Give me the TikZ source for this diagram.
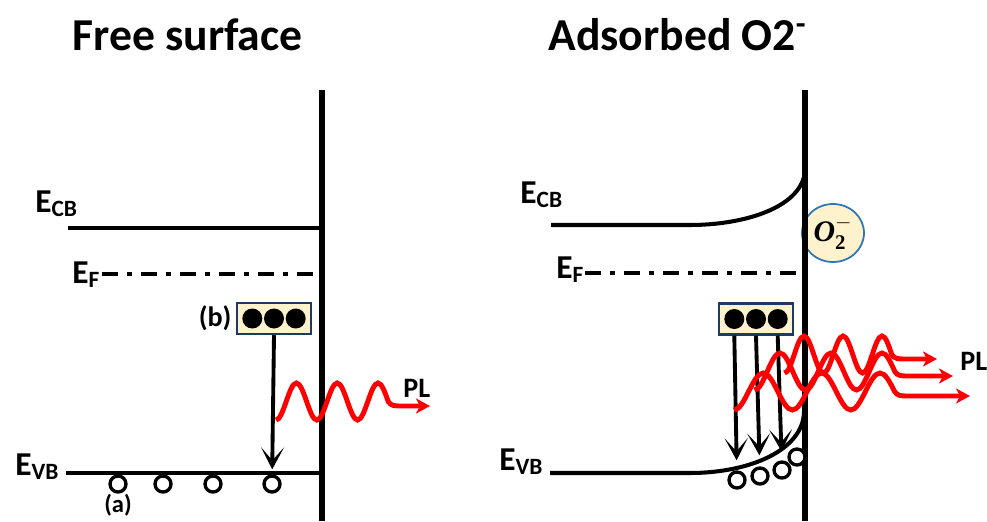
\documentclass[tikz,border=0pt]{standalone}
\usepackage{fontspec}
\setmainfont{Carlito}
\newfontfamily\oxfont{Liberation Serif}
\usepackage{amsmath}
\usepackage{tikz}
\usetikzlibrary{arrows.meta, positioning, shapes.geometric}
\definecolor{plred}{HTML}{FF0000}
\definecolor{trapfill}{HTML}{FFF2CC}
\definecolor{trapedge}{HTML}{1F3864}
\definecolor{oxedge}{HTML}{2E75B6}

\begin{document}
\begin{tikzpicture}[x=0.02cm, y=-0.02cm,
          title/.style={font=\fontsize{26}{30}\selectfont\bfseries, inner sep=0pt},
          lvl/.style={font=\fontsize{19}{22}\selectfont\bfseries, inner sep=0pt},
          tag/.style={font=\fontsize{16}{18}\selectfont\bfseries, inner sep=0pt},
          wall/.style={line width=3.4pt},
          band/.style={line width=2.3pt},
          fermi/.style={line width=2.3pt, dash pattern=on 0.32cm off 0.18cm on 0.1cm off 0.18cm},
          trap/.style={rectangle, draw=trapedge, fill=trapfill, line width=1.4pt,
                       minimum width=1.48cm, minimum height=0.62cm},
          electron/.style={circle, fill=black, minimum size=0.4cm, inner sep=0pt},
          hole/.style={circle, draw, fill=white, line width=1.9pt, minimum size=0.32cm, inner sep=0pt},
          oxy/.style={ellipse, draw=oxedge, fill=trapfill, line width=1pt,
                      minimum width=1.24cm, minimum height=1.16cm, inner sep=0pt,
                      font=\fontsize{17}{20}\selectfont},
          trans/.style={-{Stealth[length=0.44cm, width=0.46cm, inset=0.26cm]}, line width=2.2pt},
          pl/.style={plred, line width=2.8pt, -{Stealth[length=0.28cm, width=0.3cm, inset=0.08cm]}}
        ]
        \useasboundingbox (0,0) rectangle (987,521);

        \node[title, anchor=base west] (tfree) at (72,50) {Free surface};
        \node[title, anchor=base west] (tads) at (548,50) {Adsorbed O2\textsuperscript{-}};

        % Free surface
        \coordinate (lwtop) at (322,90);
        \coordinate (lwbot) at (322,521);
        \coordinate (lcb) at (68,228);
        \coordinate (lef) at (102,274);
        \coordinate (lvb) at (66,473);
        \draw[band] (lcb) -- (lcb -| lwtop);
        \draw[fermi] (lef) -- (lef -| lwtop);
        \draw[band] (lvb) -- (lvb -| lwtop);
        \draw[wall] (lwtop) -- (lwbot);

        \node[lvl, anchor=base west] (lecbl) at (35,212) {E\textsubscript{CB}};
        \node[lvl, anchor=base west] (lefl) at (72,283) {E\textsubscript{F}};
        \node[lvl, anchor=base west] (levbl) at (15,475) {E\textsubscript{VB}};

        \node[trap] (lbox) at (274,318.5) {};
        \node[electron] (ld2) at (274,318.5) {};
        \node[electron, left=0.02cm of ld2] (ld1) {};
        \node[electron, right=0.02cm of ld2] (ld3) {};
        \node[tag, left=0.08cm of lbox] (tagb) {(b)};

        \node[hole] (lh1) at (118,484) {};
        \node[hole] (lh2) at (163,484) {};
        \node[hole] (lh3) at (213,484) {};
        \node[hole] (lh4) at (272,484) {};
        \node[tag, font=\fontsize{14}{16}\selectfont\bfseries, anchor=base] (taga) at (118,512) {(a)};

        \draw[trans, shorten >=0.1cm] (lbox.south) -- (lh4);

        % Adsorbed O2-
        \coordinate (rwtop) at (805,90);
        \coordinate (rwbot) at (805,521);
        \coordinate (rcb) at (551,225);
        \coordinate (ref) at (585,273);
        \coordinate (rvb) at (550,473);
        \draw[band] (rcb) -- (690,225) .. controls (740,225) and (795,210) .. (804,177);
        \draw[fermi] (ref) -- (ref -| rwtop);
        \draw[band] (rvb) -- (690,473) .. controls (750,473) and (803,450) .. (804,412);
        \node[oxy] (oxion) at (833,233) {$\text{\oxfont\bfseries\itshape O}_{\text{\oxfont\bfseries 2}}^{-}$};
        \draw[wall] (rwtop) -- (rwbot);

        \node[lvl, anchor=base west] (recbl) at (520,203) {E\textsubscript{CB}};
        \node[lvl, anchor=base west] (refl) at (556,278) {E\textsubscript{F}};
        \node[lvl, anchor=base west] (revbl) at (499,470) {E\textsubscript{VB}};

        \node[trap] (rbox) at (756,319) {};
        \node[electron] (rd2) at (756,319) {};
        \node[electron, left=0.02cm of rd2] (rd1) {};
        \node[electron, right=0.02cm of rd2] (rd3) {};

        \node[hole] (rh1) at (737,480) {};
        \node[hole] (rh2) at (760,476) {};
        \node[hole] (rh3) at (782,470) {};
        \node[hole] (rh4) at (797,457) {};

        \draw[trans, shorten >=0.2cm] (rd1 |- rbox.south) -- (rh1);
        \draw[trans, shorten >=0.22cm] (rd2 |- rbox.south) -- (rh2);
        \draw[trans, shorten >=0.18cm] (rd3 |- rbox.south) -- (rh3);

        % PL waves
        \foreach \P/\Y/\q/\tip in {378/383/10.2/430, 882/336/9.75/937, 882/353/12.75/953, 880/373/14.6/970}
          \draw[pl] ({\P-10*\q},{\Y+37}) cos ({\P-9*\q},{\Y+18.5}) sin ({\P-8*\q},\Y)
                    cos ({\P-7*\q},{\Y+18.5}) sin ({\P-6*\q},{\Y+37})
                    cos ({\P-5*\q},{\Y+18.5}) sin ({\P-4*\q},\Y)
                    cos ({\P-3*\q},{\Y+18.5}) sin ({\P-2*\q},{\Y+37})
                    cos ({\P-\q},{\Y+18.5}) sin (\P,\Y) cos ({\P+\q},{\Y+18.5})
                    to[out=-60, in=180] ({\P+\q+12},{\Y+23}) -- (\tip,{\Y+23});

        \node[tag, anchor=base west] (pll) at (403,397) {PL};
        \node[tag, anchor=base west] (plr) at (960,370) {PL};
      \end{tikzpicture}
\end{document}
